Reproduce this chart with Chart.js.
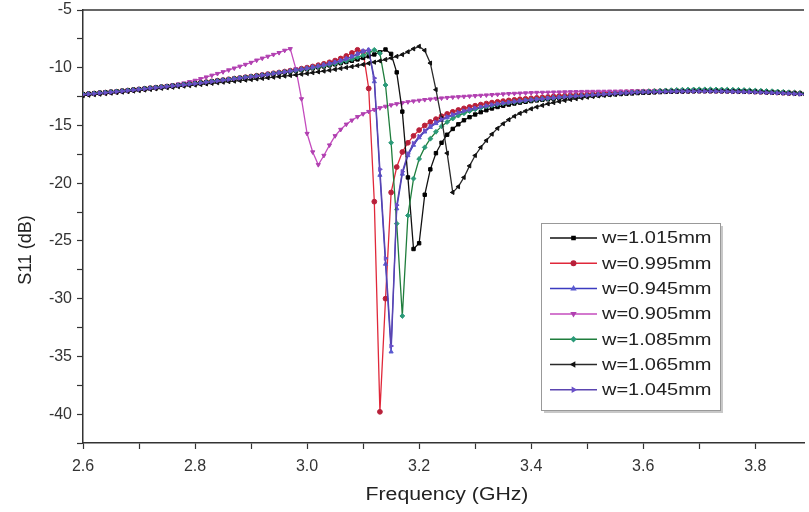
<!DOCTYPE html>
<html>
<head>
<meta charset="utf-8">
<script src="https://cdn.jsdelivr.net/npm/chart.js@4.4.1/dist/chart.umd.min.js"></script>
<style>
  body { margin: 0; background: #fff; }
  #wrap { width: 809px; height: 512px; position: relative; }
</style>
</head>
<body>
<div id="wrap"><canvas id="s11"></canvas></div>
<script>
// frequency sweep (GHz)
const freq = [
  2.60,2.61,2.62,2.63,2.64,2.65,2.66,2.67,2.68,2.69,
  2.70,2.71,2.72,2.73,2.74,2.75,2.76,2.77,2.78,2.79,
  2.80,2.81,2.82,2.83,2.84,2.85,2.86,2.87,2.88,2.89,
  2.90,2.91,2.92,2.93,2.94,2.95,2.96,2.97,2.98,2.99,
  3.00,3.01,3.02,3.03,3.04,3.05,3.06,3.07,3.08,3.09,
  3.10,3.11,3.12,3.13,3.14,3.15,3.16,3.17,3.18,3.19,
  3.20,3.21,3.22,3.23,3.24,3.25,3.26,3.27,3.28,3.29,
  3.30,3.31,3.32,3.33,3.34,3.35,3.36,3.37,3.38,3.39,
  3.40,3.41,3.42,3.43,3.44,3.45,3.46,3.47,3.48,3.49,
  3.50,3.51,3.52,3.53,3.54,3.55,3.56,3.57,3.58,3.59,
  3.60,3.61,3.62,3.63,3.64,3.65,3.66,3.67,3.68,3.69,
  3.70,3.71,3.72,3.73,3.74,3.75,3.76,3.77,3.78,3.79,
  3.80,3.81,3.82,3.83,3.84,3.85,3.86,3.87,3.88,3.89
]

// axis ticks (labelled ones are every other)
const xTicks = [2.6,2.7,2.8,2.9,3.0,3.1,3.2,3.3,3.4,3.5,3.6,3.7,3.8]
const yTicks = [-42.5,-40,-37.5,-35,-32.5,-30,-27.5,-25,-22.5,-20,-17.5,-15,-12.5,-10,-7.5,-5]

// S11 (dB) for each width
const w1015 = [
  -12.29,-12.25,-12.21,-12.17,-12.13,-12.09,-12.05,-12.00,-11.95,-11.90,
  -11.86,-11.81,-11.76,-11.71,-11.66,-11.61,-11.56,-11.51,-11.46,-11.41,
  -11.36,-11.30,-11.25,-11.19,-11.13,-11.08,-11.02,-10.96,-10.90,-10.84,
  -10.78,-10.72,-10.66,-10.60,-10.54,-10.47,-10.41,-10.34,-10.27,-10.20,
  -10.13,-10.05,-9.97,-9.89,-9.80,-9.71,-9.61,-9.51,-9.40,-9.28,
  -9.15,-9.01,-8.85,-8.66,-8.42,-8.80,-10.4,-13.8,-19.5,-25.7,
  -25.2,-21.0,-18.8,-17.4,-16.5,-15.8,-15.3,-14.9,-14.55,-14.28,
  -14.05,-13.85,-13.68,-13.53,-13.40,-13.29,-13.19,-13.10,-13.02,-12.95,
  -12.89,-12.83,-12.78,-12.73,-12.68,-12.64,-12.60,-12.56,-12.52,-12.49,
  -12.45,-12.42,-12.39,-12.36,-12.33,-12.30,-12.27,-12.24,-12.22,-12.19,
  -12.17,-12.15,-12.13,-12.11,-12.09,-12.07,-12.06,-12.05,-12.04,-12.03,
  -12.02,-12.02,-12.02,-12.02,-12.03,-12.03,-12.04,-12.05,-12.06,-12.07,
  -12.09,-12.10,-12.12,-12.14,-12.16,-12.18,-12.20,-12.22,-12.25,-12.28
]
const w0995 = [
  -12.31,-12.27,-12.23,-12.19,-12.15,-12.11,-12.07,-12.02,-11.97,-11.92,
  -11.87,-11.82,-11.77,-11.72,-11.67,-11.62,-11.57,-11.52,-11.47,-11.41,
  -11.36,-11.30,-11.24,-11.18,-11.12,-11.06,-11.00,-10.94,-10.88,-10.82,
  -10.76,-10.69,-10.62,-10.55,-10.48,-10.41,-10.33,-10.25,-10.17,-10.08,
  -9.99,-9.89,-9.78,-9.66,-9.53,-9.38,-9.20,-8.98,-8.72,-8.45,
  -8.62,-11.8,-21.6,-39.8,-30.0,-20.8,-18.6,-17.3,-16.5,-15.9,
  -15.4,-15.0,-14.7,-14.45,-14.2,-14.0,-13.82,-13.66,-13.52,-13.40,
  -13.29,-13.19,-13.10,-13.02,-12.95,-12.89,-12.83,-12.78,-12.73,-12.69,
  -12.65,-12.61,-12.57,-12.53,-12.49,-12.45,-12.42,-12.39,-12.36,-12.33,
  -12.30,-12.27,-12.24,-12.21,-12.19,-12.17,-12.15,-12.13,-12.11,-12.09,
  -12.07,-12.06,-12.05,-12.04,-12.03,-12.02,-12.01,-12.00,-12.00,-11.99,
  -11.99,-11.99,-11.99,-12.00,-12.00,-12.01,-12.02,-12.03,-12.04,-12.05,
  -12.07,-12.08,-12.10,-12.12,-12.14,-12.16,-12.18,-12.20,-12.22,-12.25
]
const w0945 = [
  -12.30,-12.26,-12.22,-12.18,-12.14,-12.10,-12.06,-12.01,-11.96,-11.91,
  -11.86,-11.81,-11.76,-11.71,-11.66,-11.61,-11.56,-11.51,-11.46,-11.41,
  -11.36,-11.30,-11.24,-11.18,-11.12,-11.06,-11.00,-10.94,-10.88,-10.82,
  -10.76,-10.70,-10.63,-10.56,-10.49,-10.42,-10.35,-10.27,-10.19,-10.11,
  -10.03,-9.94,-9.85,-9.75,-9.64,-9.52,-9.38,-9.22,-9.03,-8.80,
  -8.55,-8.45,-11.2,-19.3,-27.0,-34.6,-22.2,-19.2,-17.6,-16.7,
  -16.05,-15.55,-15.15,-14.82,-14.55,-14.32,-14.12,-13.95,-13.80,-13.67,
  -13.55,-13.44,-13.34,-13.25,-13.17,-13.10,-13.03,-12.97,-12.91,-12.86,
  -12.81,-12.76,-12.71,-12.67,-12.62,-12.58,-12.54,-12.50,-12.47,-12.43,
  -12.40,-12.36,-12.33,-12.30,-12.27,-12.24,-12.21,-12.18,-12.16,-12.14,
  -12.12,-12.10,-12.08,-12.07,-12.06,-12.05,-12.04,-12.03,-12.02,-12.02,
  -12.01,-12.01,-12.01,-12.02,-12.02,-12.03,-12.04,-12.05,-12.06,-12.07,
  -12.09,-12.10,-12.12,-12.14,-12.16,-12.18,-12.20,-12.23,-12.26,-12.29
]
const w0905 = [
  -12.32,-12.28,-12.24,-12.20,-12.16,-12.12,-12.07,-12.02,-11.97,-11.92,
  -11.87,-11.82,-11.77,-11.71,-11.65,-11.58,-11.50,-11.42,-11.33,-11.22,
  -11.10,-10.96,-10.81,-10.66,-10.51,-10.36,-10.20,-10.04,-9.88,-9.72,
  -9.55,-9.35,-9.18,-9.02,-8.86,-8.70,-8.50,-8.36,-10.1,-12.7,
  -15.7,-17.3,-18.4,-17.6,-16.7,-15.9,-15.35,-14.9,-14.55,-14.25,
  -14.0,-13.8,-13.63,-13.48,-13.35,-13.23,-13.13,-13.04,-12.96,-12.89,
  -12.83,-12.77,-12.72,-12.67,-12.63,-12.59,-12.55,-12.52,-12.49,-12.46,
  -12.43,-12.40,-12.37,-12.34,-12.31,-12.28,-12.25,-12.23,-12.21,-12.19,
  -12.17,-12.15,-12.14,-12.13,-12.12,-12.11,-12.10,-12.09,-12.08,-12.07,
  -12.06,-12.06,-12.05,-12.05,-12.04,-12.04,-12.03,-12.03,-12.02,-12.02,
  -12.01,-12.01,-12.00,-12.00,-11.99,-11.99,-11.98,-11.98,-11.97,-11.97,
  -11.97,-11.97,-11.97,-11.98,-11.98,-11.99,-12.00,-12.01,-12.02,-12.04,
  -12.05,-12.07,-12.09,-12.11,-12.13,-12.15,-12.17,-12.19,-12.22,-12.25
]
const w1085 = [
  -12.31,-12.27,-12.23,-12.19,-12.15,-12.11,-12.06,-12.02,-11.97,-11.92,
  -11.87,-11.82,-11.77,-11.72,-11.67,-11.62,-11.57,-11.52,-11.47,-11.42,
  -11.37,-11.31,-11.25,-11.19,-11.13,-11.07,-11.01,-10.95,-10.89,-10.83,
  -10.77,-10.71,-10.65,-10.58,-10.51,-10.44,-10.37,-10.30,-10.23,-10.15,
  -10.07,-9.99,-9.91,-9.82,-9.73,-9.63,-9.52,-9.40,-9.26,-9.10,
  -8.92,-8.70,-8.45,-8.75,-11.5,-16.5,-23.5,-31.5,-22.8,-19.6,
  -17.9,-16.9,-16.15,-15.55,-15.08,-14.70,-14.40,-14.15,-13.94,-13.76,
  -13.60,-13.47,-13.36,-13.26,-13.17,-13.09,-13.02,-12.96,-12.90,-12.84,
  -12.79,-12.74,-12.70,-12.65,-12.61,-12.57,-12.53,-12.50,-12.46,-12.43,
  -12.40,-12.37,-12.34,-12.31,-12.28,-12.25,-12.22,-12.19,-12.15,-12.11,
  -12.08,-12.05,-12.02,-11.99,-11.96,-11.94,-11.92,-11.90,-11.89,-11.88,
  -11.87,-11.87,-11.87,-11.88,-11.88,-11.89,-11.90,-11.91,-11.93,-11.95,
  -11.97,-11.99,-12.01,-12.03,-12.06,-12.09,-12.12,-12.15,-12.18,-12.21
]
const w1065 = [
  -12.42,-12.38,-12.33,-12.29,-12.24,-12.20,-12.15,-12.11,-12.07,-12.02,
  -11.98,-11.93,-11.88,-11.83,-11.78,-11.73,-11.69,-11.64,-11.59,-11.55,
  -11.50,-11.45,-11.40,-11.35,-11.30,-11.25,-11.20,-11.16,-11.11,-11.07,
  -11.02,-10.97,-10.92,-10.87,-10.82,-10.77,-10.72,-10.67,-10.62,-10.56,
  -10.50,-10.43,-10.36,-10.29,-10.22,-10.14,-10.06,-9.98,-9.90,-9.81,
  -9.72,-9.62,-9.52,-9.41,-9.29,-9.16,-9.02,-8.86,-8.62,-8.36,
  -8.15,-8.50,-9.6,-11.9,-14.4,-17.4,-20.8,-20.3,-19.5,-18.5,
  -17.6,-16.9,-16.3,-15.75,-15.25,-14.85,-14.5,-14.2,-13.95,-13.75,
  -13.56,-13.40,-13.26,-13.13,-13.02,-12.92,-12.83,-12.75,-12.68,-12.61,
  -12.55,-12.49,-12.44,-12.39,-12.35,-12.31,-12.27,-12.23,-12.20,-12.17,
  -12.14,-12.12,-12.10,-12.08,-12.06,-12.05,-12.04,-12.03,-12.02,-12.01,
  -12.00,-12.00,-12.00,-12.00,-12.01,-12.01,-12.02,-12.03,-12.04,-12.05,
  -12.07,-12.09,-12.11,-12.13,-12.15,-12.17,-12.19,-12.21,-12.24,-12.27
]
const w1045 = [
  -12.32,-12.28,-12.24,-12.20,-12.16,-12.12,-12.07,-12.03,-11.98,-11.93,
  -11.88,-11.83,-11.78,-11.73,-11.68,-11.63,-11.58,-11.53,-11.48,-11.43,
  -11.38,-11.32,-11.26,-11.20,-11.14,-11.08,-11.02,-10.96,-10.90,-10.84,
  -10.78,-10.72,-10.65,-10.58,-10.51,-10.44,-10.37,-10.29,-10.21,-10.13,
  -10.05,-9.96,-9.87,-9.77,-9.66,-9.54,-9.40,-9.24,-9.05,-8.82,
  -8.57,-8.48,-10.9,-18.8,-26.5,-34.1,-21.9,-19.0,-17.45,-16.55,
  -15.95,-15.45,-15.05,-14.72,-14.46,-14.24,-14.05,-13.88,-13.74,-13.61,
  -13.50,-13.39,-13.30,-13.21,-13.13,-13.06,-13.00,-12.94,-12.88,-12.83,
  -12.78,-12.73,-12.69,-12.64,-12.60,-12.56,-12.52,-12.49,-12.45,-12.42,
  -12.39,-12.35,-12.32,-12.29,-12.26,-12.23,-12.20,-12.18,-12.15,-12.13,
  -12.11,-12.10,-12.09,-12.08,-12.07,-12.06,-12.05,-12.05,-12.04,-12.04,
  -12.04,-12.04,-12.04,-12.05,-12.05,-12.06,-12.07,-12.08,-12.09,-12.10,
  -12.12,-12.13,-12.15,-12.17,-12.19,-12.21,-12.23,-12.26,-12.29,-12.32
]

const seriesLabels = ['w=1.015mm','w=0.995mm','w=0.945mm','w=0.905mm','w=1.085mm','w=1.065mm','w=1.045mm']
const seriesValues = [w1015, w0995, w0945, w0905, w1085, w1065, w1045]
const lineColors   = ['#111111','#e0283a','#3b3bc0','#c44cbe','#1f7d3c','#2a2a2a','#5b45b0']
const markColors   = ['#000000','#b8203a','#5a5ad0','#b040b0','#2a9a78','#111111','#6a50c8']
const markStyles   = ['rect','circle','triangle','triangle','rectRot','triangle','triangle']
const markRotate   = [0, 0, 0, 180, 0, -90, 90]
const drawOrder    = [3, 6, 5, 4, 2, 1, 0]

const FONT = '"Liberation Sans", Arial, sans-serif'

const datasets = seriesLabels.map((lab, k) => ({
  label: lab,
  data: freq.map((f, i) => ({ x: f, y: seriesValues[k][i] })),
  borderColor: lineColors[k],
  backgroundColor: markColors[k],
  pointBorderColor: markColors[k],
  pointBackgroundColor: markColors[k],
  borderWidth: 1.3,
  pointRadius: 2.4,
  pointBorderWidth: 1,
  pointStyle: markStyles[k],
  pointRotation: markRotate[k],
  tension: 0,
  order: drawOrder[k]
}))

const framePlugin = {
  id: 'frame',
  afterDraw(chart) {
    const ctx = chart.ctx
    const a = chart.chartArea
    ctx.save()
    // top border
    ctx.strokeStyle = '#333'
    ctx.lineWidth = 1.5
    ctx.beginPath()
    ctx.moveTo(a.left, a.top)
    ctx.lineTo(a.right, a.top)
    ctx.stroke()

    // axis titles
    ctx.fillStyle = '#222'
    ctx.font = '18px ' + FONT
    ctx.textAlign = 'center'
    ctx.textBaseline = 'middle'
    ctx.save()
    ctx.translate(447, 495)
    ctx.scale(1.18, 1)
    ctx.fillText('Frequency (GHz)', 0, 0)
    ctx.restore()
    ctx.save()
    ctx.translate(26, 250)
    ctx.rotate(-Math.PI / 2)
    ctx.fillText('S11 (dB)', 0, 0)
    ctx.restore()

    // legend box
    const bx = 541, by = 223, bw = 179, bh = 187
    ctx.fillStyle = '#c8c8c8'
    ctx.fillRect(bx + 3, by + 3, bw, bh)
    ctx.fillStyle = '#fff'
    ctx.fillRect(bx, by, bw, bh)
    ctx.strokeStyle = '#999'
    ctx.lineWidth = 1
    ctx.strokeRect(bx + 0.5, by + 0.5, bw, bh)

    ctx.font = '16px ' + FONT
    ctx.textAlign = 'left'
    seriesLabels.forEach((lab, k) => {
      const y = 238 + k * 25.3
      ctx.strokeStyle = lineColors[k]
      ctx.lineWidth = 1.5
      ctx.beginPath()
      ctx.moveTo(550, y)
      ctx.lineTo(597, y)
      ctx.stroke()
      ctx.fillStyle = markColors[k]
      ctx.strokeStyle = markColors[k]
      Chart.helpers.drawPoint(ctx, {
        pointStyle: markStyles[k], radius: 2.2, rotation: markRotate[k], borderWidth: 1
      }, 573.5, y)
      ctx.fillStyle = '#222'
      ctx.save()
      ctx.translate(602, y + 1)
      ctx.scale(1.25, 1)
      ctx.fillText(lab, 0, 0)
      ctx.restore()
    })
    ctx.restore()
  }
}

new Chart(document.getElementById('s11'), {
  type: 'line',
  data: { datasets: datasets },
  options: {
    responsive: true,
    maintainAspectRatio: false,
    animation: false,
    layout: { padding: { top: 10, right: 0, left: 0, bottom: 0 } },
    plugins: { legend: { display: false }, tooltip: { enabled: false } },
    scales: {
      x: {
        type: 'linear',
        min: 2.6,
        max: 3.887,
        afterBuildTicks: s => { s.ticks = xTicks.map(v => ({ value: v })) },
        afterFit: s => { s.height = 69; s.paddingLeft = 0; s.paddingRight = 0 },
        border: { color: '#333', width: 1.5 },
        grid: { drawOnChartArea: false, drawTicks: true, tickLength: 6, color: '#333', tickWidth: 1.2 },
        ticks: {
          autoSkip: false,
          maxRotation: 0,
          padding: 8,
          color: '#333',
          font: { family: FONT, size: 16 },
          callback: v => (Math.round(v * 10) % 2 === 0 ? v.toFixed(1) : '')
        }
      },
      y: {
        min: -42.5,
        max: -5,
        afterBuildTicks: s => { s.ticks = yTicks.map(v => ({ value: v })) },
        afterFit: s => { s.width = 83; s.paddingTop = 0; s.paddingBottom = 0 },
        border: { color: '#333', width: 1.5 },
        grid: { drawOnChartArea: false, drawTicks: true, tickLength: 6, color: '#333', tickWidth: 1.2 },
        ticks: {
          autoSkip: false,
          padding: 5,
          color: '#333',
          font: { family: FONT, size: 16 },
          callback: v => (v % 5 === 0 ? String(v) : '')
        }
      }
    }
  },
  plugins: [framePlugin]
})
</script>
</body>
</html>
